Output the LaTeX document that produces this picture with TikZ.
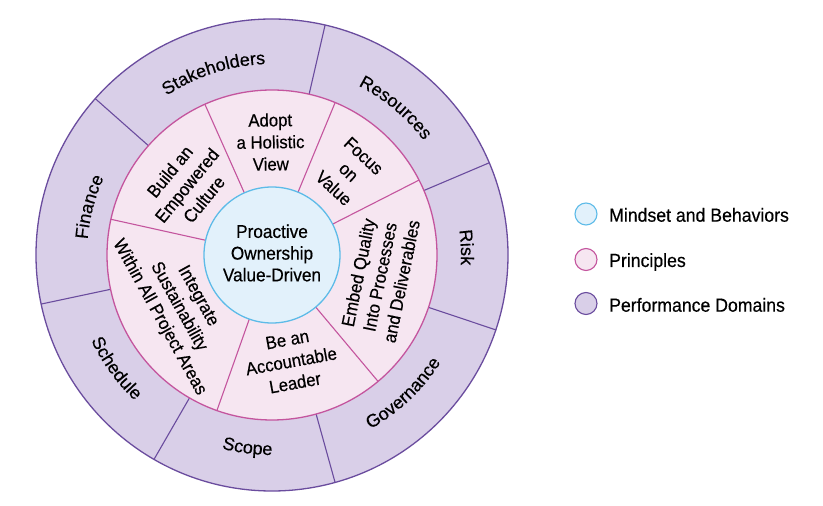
\documentclass[tikz,border=0pt]{standalone}
\usepackage{fontspec}
\setmainfont{Liberation Sans}[FakeStretch=0.93,FakeBold=0.4]
\newfontfamily\outerfam{Liberation Sans}[FakeStretch=1.0,FakeBold=0.4]
\usetikzlibrary{decorations.text}
\definecolor{domfill}{HTML}{D9CFE8}
\definecolor{domline}{HTML}{6A4C9E}
\definecolor{prinfill}{HTML}{F6E6F1}
\definecolor{prinline}{HTML}{C4559E}
\definecolor{mindfill}{HTML}{E2F1FB}
\definecolor{mindline}{HTML}{5DBBE8}
\newcommand\diagfont{\fontsize{18}{22}\selectfont}
\newcommand\outerfont{\outerfam\fontsize{18}{22}\selectfont}
\newcommand\corefont{\fontsize{18.5}{21.7}\selectfont}
\newcommand\legfont{\fontsize{19}{22}\selectfont}
\begin{document}
\begin{tikzpicture}[x=1pt,y=1pt,
  ptext/.style={align=center,font=\diagfont,inner sep=0pt},
  ctext/.style={align=center,font=\corefont,inner sep=0pt},
  legdot/.style={circle,minimum size=22pt,inner sep=0pt,line width=1.1pt},
  legtext/.style={anchor=base west,font=\legfont,inner sep=0pt},
  cwlabel/.style={decorate,decoration={text along path,text align=center,text={|\outerfont|#1}}},
]
\useasboundingbox (0,0) rectangle (823,506);
\begin{scope}[shift={(272,251)}]
  % performance domains ring
  \filldraw[fill=domfill,draw=domline,line width=1.3pt] (0,0) circle[radius=236];
  \foreach \a in {77,23,-18.5,-74.5,-120,192,138.5}
    \draw[domline,line width=1.1pt] (\a:165) -- (\a:236);
  % principles ring
  \filldraw[fill=prinfill,draw=prinline,line width=1.3pt] (0,0) circle[radius=165];
  \foreach \a in {114,67.5,27,-50,-109.5,167.5}
    \draw[prinline,line width=1.1pt] (\a:68) -- (\a:165);
  % mindset core
  \filldraw[fill=mindfill,draw=mindline,line width=1.3pt] (0,0) circle[radius=68];
  \node[ctext] (core) at (0,2) {Proactive\\Ownership\\Value-Driven};
  % principles
  \node[ptext,rotate=0.75] (adopt) at (90.75:113) {Adopt\\a Holistic\\View};
  \node[ptext,rotate=-42.75] (focus) at (47.25:113) {Focus\\on\\Value};
  \node[ptext,rotate=78.5] (embed) at (-11.5:110) {Embed Quality\\Into Processes\\and Deliverables};
  \node[ptext,rotate=10.25] (leader) at (-79.75:108) {Be an\\Accountable\\Leader};
  \node[ptext,rotate=-61] (integrate) at (209:107) {Integrate\\Sustainability\\Within All Project Areas};
  \node[ptext,rotate=50.75] (build) at (140.75:110) {Build an\\Empowered\\Culture};
  % performance domain labels
  \path[cwlabel=Stakeholders] (138.5:191) arc[start angle=138.5,end angle=77,radius=191];
  \path[cwlabel=Resources] (77:190) arc[start angle=77,end angle=23,radius=190];
  \path[cwlabel=Risk] (23:189) arc[start angle=23,end angle=-18.5,radius=189];
  \path[cwlabel=Finance] (192:185) arc[start angle=192,end angle=138.5,radius=185];
  \path[cwlabel=Governance] (-74.5:200) arc[start angle=-74.5,end angle=-18.5,radius=200];
  \path[cwlabel=Scope] (-120:200) arc[start angle=-120,end angle=-74.5,radius=200];
  \path[cwlabel=Schedule] (192:200) arc[start angle=192,end angle=240,radius=200];
\end{scope}
% legend
\node[legdot,fill=mindfill,draw=mindline] (dotmind) at (586,292) {};
\node[legdot,fill=prinfill,draw=prinline] (dotprin) at (586,246.5) {};
\node[legdot,fill=domfill,draw=domline] (dotdom) at (586,202.5) {};
\node[legtext] (txtmind) at (609,284.3) {Mindset and Behaviors};
\node[legtext] (txtprin) at (609,239) {Principles};
\node[legtext] (txtdom) at (609,194.3) {Performance Domains};
\end{tikzpicture}
\end{document}
